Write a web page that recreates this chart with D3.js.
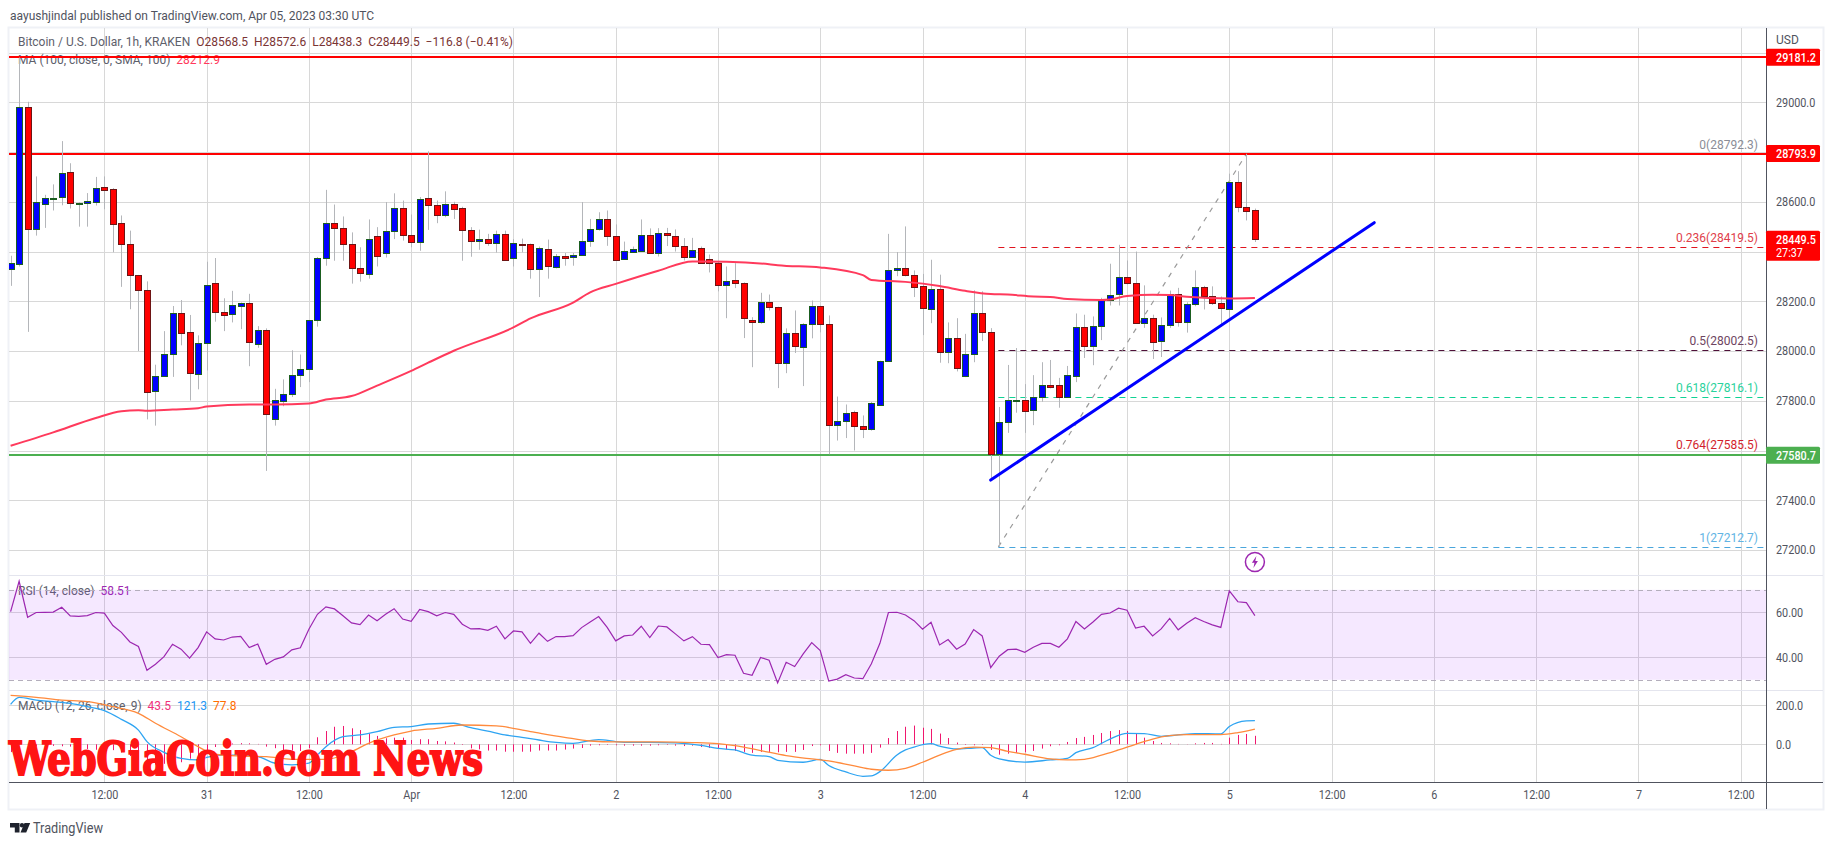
<!DOCTYPE html>
<html>
<head>
<meta charset="utf-8">
<title>BTCUSD 1h</title>
<script src="https://cdn.jsdelivr.net/npm/d3@7"></script>
<style>
  body { margin: 0; background: #fff; }
  svg { display: block; }
  text { font-family: Roboto, sans-serif; }
</style>
</head>
<body>
<svg id="chart" width="1834" height="845"></svg>
<script>
// candles, one per hour starting Mar 29 01:00 UTC
const opens = [28328,28349,28980,28491,28590,28615,28619,28721,28590,28595,
  28599,28658,28652,28515,28430,28306,28244,27840,27901,27990,
  28152,28075,27908,28033,28273,28155,28150,28183,28192,28029,
  28083,27726,27799,27828,27904,27929,28123,28376,28515,28495,
  28430,28333,28308,28462,28394,28483,28576,28467,28437,28616,
  28588,28547,28592,28576,28487,28441,28450,28433,28471,28376,
  28430,28430,28329,28410,28336,28382,28378,28386,28442,28491,
  28531,28463,28370,28398,28404,28467,28394,28475,28463,28422,
  28378,28415,28371,28355,28265,28286,28274,28126,28116,28198,
  28178,27951,28073,28016,28108,28182,28110,27702,27720,27756,
  27700,27688,27783,27961,28327,28335,28307,28260,28169,28250,
  27997,28053,27899,27989,28154,28077,27586,27713,27801,27802,
  27764,27816,27862,27862,27816,27899,28096,28020,28100,28206,
  28229,28296,28274,28114,28134,28041,28105,28230,28118,28190,
  28258,28222,28194,28170,28679,28580,28568.5];
const closes = [28353,28980,28491,28600,28616,28617,28717,28595,28597,28604,
  28656,28647,28511,28429,28304,28247,27835,27901,27990,28152,
  28073,27912,28033,28265,28158,28146,28184,28192,28037,28083,
  27746,27804,27828,27905,27929,28123,28374,28515,28494,28429,
  28332,28312,28450,28384,28483,28576,28467,28437,28612,28588,
  28547,28592,28572,28485,28441,28450,28433,28471,28364,28434,
  28425,28329,28414,28340,28382,28376,28386,28442,28491,28531,
  28461,28364,28403,28411,28467,28394,28475,28466,28422,28378,
  28407,28355,28355,28265,28282,28273,28132,28116,28198,28177,
  27951,28073,28020,28110,28182,28108,27704,27720,27752,27698,
  27688,27792,27961,28327,28335,28307,28257,28173,28250,27997,
  28053,27931,27989,28154,28076,27586,27713,27802,27803,27760,
  27816,27862,27856,27816,27902,28096,28020,28100,28206,28226,
  28296,28273,28114,28134,28037,28105,28230,28118,28190,28258,
  28222,28194,28174,28679,28580,28564,28449.5];
const highs = [28383,29180,29002,28702,28628,28670,28844,28755,28598,28635,
  28700,28702,28655,28545,28484,28306,28280,27945,28080,28181,
  28205,28145,28063,28359,28374,28212,28242,28195,28230,28100,
  28091,27848,27886,28003,27986,28123,28378,28648,28589,28541,
  28477,28417,28529,28498,28599,28634,28605,28549,28619,28803,
  28605,28642,28600,28580,28498,28488,28471,28484,28484,28450,
  28452,28432,28420,28448,28390,28394,28394,28599,28531,28558,
  28565,28509,28440,28420,28529,28493,28494,28495,28489,28454,
  28455,28420,28388,28360,28340,28353,28276,28136,28234,28227,
  28178,28091,28163,28112,28203,28182,28143,27817,27785,27760,
  27741,27795,27961,28471,28398,28501,28324,28310,28367,28307,
  28115,28132,28069,28244,28240,28092,27775,27944,28012,27867,
  27903,27955,27964,27892,27940,28151,28146,28139,28214,28351,
  28427,28364,28400,28264,28146,28135,28243,28254,28196,28324,
  28262,28260,28219,28713,28723,28793,28572.6];
const lows = [28262,28340,28077,28464,28495,28565,28586,28573,28500,28500,
  28585,28570,28397,28258,28168,28000,27725,27700,27896,27896,
  28023,27801,27846,27922,28118,28080,28115,28088,27939,28013,
  27518,27700,27778,27815,27855,27875,28098,28343,28363,28363,
  28271,28279,28291,28340,28376,28450,28444,28417,28403,28487,
  28514,28538,28531,28363,28379,28407,28423,28396,28363,28340,
  28397,28291,28217,28291,28332,28343,28343,28383,28419,28484,
  28423,28363,28367,28395,28400,28390,28380,28422,28400,28364,
  28375,28350,28316,28240,28132,28253,28052,27935,28110,28163,
  27851,27911,27992,27859,28051,28075,27585,27640,27650,27600,
  27650,27680,27780,27958,28301,28300,28217,28064,28112,27953,
  27951,27918,27895,27955,28040,27485,27212.7,27671,27752,27671,
  27702,27796,27850,27772,27812,27875,27972,27943,28044,28183,
  28183,28268,28110,28093,27968,27976,28093,28098,28074,28180,
  28167,28185,28097,28132,28558,28525,28438.3];

// moving average, read at these candle indexes
const maIndex = [0,5,10,13,15,16,19,22,23,28,31,35,37,40,43,47,49,52,59,61,66,68,71,76,80,84,89,90,95,100,101,105,109,112,115,117,120,122,124,128,129,131,134,136,138,143,146];
const maValues = [27619,27673,27731,27758,27762,27760,27765,27770,27777,27785,27785,27789,27805,27819,27861,27920,27953,28001,28095,28131,28195,28236,28270,28323,28360,28359,28349,28345,28336,28305,28286,28278,28261,28242,28229,28227,28219,28217,28209,28205,28207,28221,28226,28225,28218,28211,28212.9];

const rsiValues = [60.3,73.8,57.8,59.9,60.0,60.1,62.2,58.4,58.2,58.5,
  59.9,59.6,54.1,51.1,46.8,44.8,34.2,36.9,40.3,45.8,
  43.6,39.6,44.3,51.3,48.2,47.7,49.0,49.3,44.3,45.9,
  36.9,39.1,40.2,43.3,44.2,52.5,59.1,62.4,61.5,58.5,
  55.3,54.5,58.8,56.2,59.1,61.6,57.0,56.0,61.3,60.3,
  58.4,59.9,59.1,54.7,52.6,52.7,52.0,53.8,48.2,51.7,
  51.3,46.2,50.7,47.1,49.2,49.2,49.6,53.2,55.7,58.1,
  53.3,47.3,49.5,49.9,53.8,48.8,53.9,53.5,50.4,47.3,
  49.2,45.8,45.6,39.9,41.2,40.9,32.9,32.0,39.9,38.7,
  28.6,37.8,35.9,41.5,46.5,43.0,29.4,30.3,32.3,30.8,
  30.5,37.1,46.2,59.9,60.0,58.8,56.3,52.5,55.6,45.5,
  47.9,43.6,45.9,52.3,49.5,35.4,40.5,43.4,43.6,42.2,
  44.5,46.2,46.2,44.5,48.2,55.9,52.6,55.7,59.1,59.7,
  61.8,60.9,53.0,53.8,49.5,52.6,57.3,52.2,55.1,57.6,
  55.9,54.4,53.3,69.5,64.7,64.3,58.51];

const macdIndex = [0,1,3,5,7,9,11,13,15,16,18,20,22,23,25,27,29,31,33,35,36,37,39,41,43,45,47,49,52,54,56,58,60,62,64,66,69,71,72,75,78,81,83,85,87,89,90,93,95,96,98,100,101,102,104,105,106,108,109,111,113,114,115,116,119,122,124,125,127,129,131,133,135,137,139,142,143,145,146];
const macdValues = [205,241,227,219,210,193,173,128,73,14,-41,-72,-80,-67,-55,-55,-63,-97,-106,-97,-55,-12,39,48,65,87,91,104,108,85,67,48,36,22,10,5,24,14,10,10,7,-5,-21,-29,-56,-63,-82,-92,-77,-109,-142,-164,-162,-140,-55,-29,-14,3,-9,-24,-19,-17,-56,-75,-91,-80,-72,-43,-17,27,56,55,41,48,55,53,91,120,121.3];
const signalIndex = [0,3,6,9,12,15,17,20,22,24,27,30,33,37,40,42,45,47,50,53,57,61,65,68,71,72,76,80,83,85,88,91,94,96,99,101,103,105,107,109,111,113,115,117,119,122,124,126,128,130,132,134,136,138,142,144,146];
const signalValues = [251,241,227,219,193,159,108,39,-12,-51,-60,-63,-77,-77,-38,5,48,68,82,99,94,65,36,17,12,12,12,9,3,-7,-32,-58,-75,-85,-111,-128,-133,-123,-92,-55,-26,-14,-17,-36,-51,-75,-80,-77,-56,-29,0,27,44,50,50,60,77.8];
const histValues = [-40,2,-2,-12,-10,-8,-10,-12,-14,-24,
  -28,-26,-30,-42,-60,-80,-96,-104,-100,-100,
  -92,-74,-60,-40,-14,-5,4,6,5,2,
  -12,-20,-30,-32,-34,-20,36,68,90,94,
  82,73,56,43,31,34,34,22,26,26,
  17,15,9,-3,-21,-26,-32,-32,-38,-38,
  -38,-38,-32,-32,-32,-27,-22,-19,-7,-5,
  -3,-5,-7,-7,-7,-7,-5,-3,-7,-9,
  -7,-14,-19,-20,-26,-34,-39,-44,-39,-39,
  -41,-39,-39,-29,-9,-5,-34,-44,-48,-48,
  -48,-44,-17,32,68,90,96,85,79,55,
  32,9,-3,-5,-3,-29,-53,-48,-44,-41,
  -34,-22,-10,-5,12,32,38,48,58,68,
  73,68,56,34,17,7,5,2,1,5,
  7,7,2,34,48,53,43.5];

const priceGrid = [29200,29000,28800,28600,28400,28200,28000,27800,27600,27400,27200];
// the others sit under the price tags
const priceTicks = [29000,28600,28200,28000,27800,27400,27200];
const rsiTicks = [60,40];
const macdTicks = [200,0];
const timeTicks = [11,23,35,47,59,71,83,95,107,119,131,143,155,167,179,191,203];
const timeLabels = ["12:00","31","12:00","Apr","12:00","2","12:00","3","12:00","4","12:00","5","12:00","6","12:00","7","12:00"];

const fibLevels = ["0","0.236","0.5","0.618","0.764","1"];
const fibPrices = [28792.3,28419.5,28002.5,27816.1,27585.5,27212.7];
const fibColors = ["#8a8d96","#e0141e","#4e1038","#10d294","#e5141e","#4aa6dc"];
const fibTextColors = ["#8a8d96","#e0404a","#6e4560","#2ad29c","#d21e2c","#62b4e4"];

const resistance = [29181.2,28793.9];
const support = [27580.7];
const trendIndex = [115,160];
const trendPrice = [27481,28516];

const svg = d3.select("#chart");

const left = 9, right = 1766, frameRight = 1823;
const mainBottom = 575, rsiBottom = 690, macdBottom = 782, frameBottom = 809;

const x = d3.scaleLinear().domain([0,146]).range([10.6,1254.9]);
const y = d3.scaleLinear().domain([27200,29000]).range([550,102.3]);
const yRsi = d3.scaleLinear().domain([30,70]).range([679.8,589.8]);
const yMacd = d3.scaleLinear().domain([0,200]).range([744.3,705.3]);
const crisp = v => Math.round(v)+0.5;

svg.append("defs").append("clipPath").attr("id","plot")
  .append("rect").attr("x",left).attr("y",27).attr("width",right-left).attr("height",macdBottom-27);

// frame
svg.append("rect").attr("x",8.5).attr("y",27.5).attr("width",frameRight-8).attr("height",frameBottom-27)
  .attr("fill","#fff").attr("stroke","#eff1f6").attr("stroke-width",2);

// grid
const gridColor = "#d8d8d8";
const gridG = svg.append("g");
gridG.selectAll(".vgrid").data(timeTicks).enter().append("line")
  .attr("x1",d => crisp(x(d))).attr("x2",d => crisp(x(d))).attr("y1",28).attr("y2",macdBottom)
  .attr("stroke",gridColor);
const hgrid = (ticks, scale) => gridG.selectAll(null).data(ticks).enter().append("line")
  .attr("x1",left).attr("x2",right).attr("y1",d => crisp(scale(d))).attr("y2",d => crisp(scale(d)))
  .attr("stroke",gridColor);
hgrid(priceGrid,y);
hgrid(rsiTicks,yRsi);
hgrid(macdTicks,yMacd);

// pane separators
[mainBottom,rsiBottom].forEach(v => {
  svg.append("line").attr("x1",left).attr("x2",frameRight).attr("y1",v+0.5).attr("y2",v+0.5).attr("stroke","#e4e5ee");
});

// legends, they sit under the drawn lines
const legend = (py, parts) => {
  const t = svg.append("text").attr("x",18).attr("y",py).attr("font-size",12);
  parts.forEach(p => t.append("tspan").attr("fill",p[1]).attr("xml:space","preserve").text(p[0]));
};
const ohlc = "#7a3434";
legend(46,[["Bitcoin / U.S. Dollar, 1h, KRAKEN  ","#5d606b"],["O28568.5  H28572.6  L28438.3  C28449.5  −116.8 (−0.41%)",ohlc]]);
legend(64,[["MA (100, close, 0, SMA, 100)  ","#5d606b"],["28212.9","#ff3a5c"]]);
legend(595,[["RSI (14, close)  ","#5d606b"],["58.51","#9c27b0"]]);
legend(710,[["MACD (12, 26, close, 9)  ","#5d606b"],["43.5","#f0307a"],["  ",""],["121.3","#2196f3"],["  ",""],["77.8","#ff6d00"]]);

// rsi band
svg.append("rect").attr("x",left).attr("y",yRsi(70)).attr("width",right-left).attr("height",yRsi(30)-yRsi(70))
  .attr("fill","#a030ff").attr("opacity",0.11);
[70,30].forEach(v => {
  svg.append("line").attr("x1",left).attr("x2",right).attr("y1",crisp(yRsi(v))).attr("y2",crisp(yRsi(v)))
    .attr("stroke","#b4aebc").attr("stroke-dasharray","5 4");
});

const plot = svg.append("g").attr("clip-path","url(#plot)");

// fib levels
const fibStart = 115.9;
plot.selectAll(".fib").data(fibPrices).enter().append("line")
  .attr("x1",x(fibStart)).attr("x2",right)
  .attr("y1",d => crisp(y(d))).attr("y2",d => crisp(y(d)))
  .attr("stroke",(d,i) => fibColors[i]).attr("stroke-width",1.2).attr("stroke-dasharray","6 5");
plot.append("line")
  .attr("x1",x(fibStart)).attr("y1",y(fibPrices[5]))
  .attr("x2",x(145)).attr("y2",y(fibPrices[0]))
  .attr("stroke","#999").attr("stroke-width",1.2).attr("stroke-dasharray","5 6");
svg.selectAll(".fiblabel").data(fibPrices).enter().append("text")
  .attr("x",1758).attr("y",d => y(d)-5).attr("text-anchor","end").attr("font-size",12)
  .attr("fill",(d,i) => fibTextColors[i])
  .text((d,i) => `${fibLevels[i]}(${d.toFixed(1)})`);

// horizontal levels
plot.selectAll(".res").data(resistance).enter().append("line")
  .attr("x1",left).attr("x2",right).attr("y1",d => Math.round(y(d))).attr("y2",d => Math.round(y(d)))
  .attr("stroke","#ff0000").attr("stroke-width",2);
plot.selectAll(".sup").data(support).enter().append("line")
  .attr("x1",left).attr("x2",right).attr("y1",d => Math.round(y(d))).attr("y2",d => Math.round(y(d)))
  .attr("stroke","#4caf50").attr("stroke-width",2);

// candles
const idx = d3.range(opens.length);
plot.selectAll(".wick").data(idx).enter().append("line")
  .attr("x1",d => crisp(x(d))).attr("x2",d => crisp(x(d)))
  .attr("y1",d => y(highs[d])).attr("y2",d => y(lows[d]))
  .attr("stroke","#b4b6ba");
plot.selectAll(".body").data(idx).enter().append("rect")
  .attr("x",d => Math.round(x(d))-2.5)
  .attr("width",6)
  .attr("y",d => crisp(y(Math.max(opens[d],closes[d]))))
  .attr("height",d => Math.max(1,Math.round(y(Math.min(opens[d],closes[d])))-Math.round(y(Math.max(opens[d],closes[d])))))
  .attr("fill",d => closes[d] >= opens[d] ? "#0000ff" : "#ff0000")
  .attr("stroke",d => closes[d] >= opens[d] ? "#1b5e20" : "#6e1414");

// moving average
const line = (xs, vs, scale, curve) => d3.line().curve(curve || d3.curveLinear)
  .x(d => x(xs[d])).y(d => scale(vs[d]))(d3.range(xs.length));
plot.append("path").attr("d",line(maIndex,maValues,y,d3.curveMonotoneX))
  .attr("fill","none").attr("stroke","#ff3a5c").attr("stroke-width",2);

// trend line
plot.append("path").attr("d",line(trendIndex,trendPrice,y))
  .attr("fill","none").attr("stroke","#0000ff").attr("stroke-width",3).attr("stroke-linecap","round");

// rsi
plot.append("path").attr("d",line(idx,rsiValues,yRsi))
  .attr("fill","none").attr("stroke","#9c27b0").attr("stroke-width",1.2);

// macd
plot.selectAll(".hist").data(idx).enter().append("line")
  .attr("x1",d => crisp(x(d))).attr("x2",d => crisp(x(d)))
  .attr("y1",yMacd(0)).attr("y2",d => yMacd(histValues[d]))
  .attr("stroke","#f0176e");
plot.append("path").attr("d",line(macdIndex,macdValues,yMacd,d3.curveMonotoneX))
  .attr("fill","none").attr("stroke","#2ea4f2").attr("stroke-width",1.3);
plot.append("path").attr("d",line(signalIndex,signalValues,yMacd,d3.curveMonotoneX))
  .attr("fill","none").attr("stroke","#ff8a3c").attr("stroke-width",1.3);

// lightning marker on the last candle
const bolt = svg.append("g").attr("transform",`translate(${x(146)},562)`);
bolt.append("circle").attr("r",9.5).attr("fill","#fff").attr("stroke","#9c27b0").attr("stroke-width",1.5);
bolt.append("path").attr("d","M1.5,-6 L-3,0.8 L-0.4,0.8 L-1.5,6 L3,-1 L0.4,-1 Z").attr("fill","#9c27b0");

// axes, the reference's numerals run narrow so they get squeezed a bit
const axisText = "#50535e";
const squeeze = (sel, k) => sel.each(function() {
  this.setAttribute("textLength", this.getComputedTextLength()*k);
  this.setAttribute("lengthAdjust", "spacingAndGlyphs");
});
const styleAxis = g => {
  g.select(".domain").remove();
  g.selectAll(".tick line").remove();
  g.selectAll("text").attr("fill",axisText).attr("font-size",12).attr("font-family","Roboto, sans-serif").call(squeeze,0.9);
};
svg.append("g").attr("transform",`translate(${right+4},0)`)
  .call(d3.axisRight(y).tickValues(priceTicks).tickFormat(d3.format(".1f")).tickSize(0).tickPadding(6))
  .call(styleAxis);
svg.append("g").attr("transform",`translate(${right+4},0)`)
  .call(d3.axisRight(yRsi).tickValues(rsiTicks).tickFormat(d3.format(".2f")).tickSize(0).tickPadding(6))
  .call(styleAxis);
svg.append("g").attr("transform",`translate(${right+4},0)`)
  .call(d3.axisRight(yMacd).tickValues(macdTicks).tickFormat(d3.format(".1f")).tickSize(0).tickPadding(6))
  .call(styleAxis);
svg.append("g").attr("transform",`translate(0,${macdBottom})`)
  .call(d3.axisBottom(x).tickValues(timeTicks).tickFormat((d,i) => timeLabels[i]).tickSize(0).tickPadding(8))
  .call(styleAxis);

svg.append("text").attr("x",1776).attr("y",44).attr("fill",axisText).attr("font-size",12).text("USD");

svg.append("line").attr("x1",right+0.5).attr("x2",right+0.5).attr("y1",28).attr("y2",frameBottom).attr("stroke","#50535e");
svg.append("line").attr("x1",left).attr("x2",frameRight).attr("y1",macdBottom+0.5).attr("y2",macdBottom+0.5).attr("stroke","#50535e");

// price tags
const tag = (price, color, h, label, sub) => {
  const top = y(price)-8.5;
  svg.append("rect").attr("x",right).attr("y",top).attr("width",54).attr("height",h).attr("rx",1.5).attr("fill",color);
  svg.append("text").attr("x",1776).attr("y",top+13).attr("fill","#fff").attr("font-size",12).attr("font-weight",500).text(label).call(squeeze,0.9);
  if (sub) svg.append("text").attr("x",1776).attr("y",top+26).attr("fill","#fff").attr("font-size",12).text(sub).call(squeeze,0.9);
};
tag(29181.2,"#ff0000",17,"29181.2");
tag(28793.9,"#ff0000",17,"28793.9");
tag(28449.5,"#ff0000",30,"28449.5","27:37");
tag(27580.7,"#4caf50",17,"27580.7");

// publisher line and logo
svg.append("text").attr("x",10).attr("y",19.5).attr("fill","#50535e").attr("font-size",12)
  .text("aayushjindal published on TradingView.com, Apr 05, 2023 03:30 UTC");
svg.append("path").attr("fill","#1e222d")
  .attr("d","M10,823 h9.5 v9.5 h-4.7 v-5 h-4.8 Z M24.5,823 h5.7 l-4,9.5 h-5.7 Z");
svg.append("circle").attr("cx",22).attr("cy",825.2).attr("r",2.2).attr("fill","#1e222d");
svg.append("text").attr("x",33).attr("y",833).attr("fill","#50535e").attr("font-size",14)
  .attr("textLength",70).attr("lengthAdjust","spacingAndGlyphs").text("TradingView");

// site watermark
svg.append("text").attr("x",9).attr("y",775).attr("textLength",474).attr("lengthAdjust","spacingAndGlyphs")
  .attr("font-weight",700).attr("font-size",46)
  .attr("stroke","#ff1414").attr("stroke-width",1.8)
  .attr("fill","#ff1414").style("font-family","'DejaVu Serif Condensed','DejaVu Serif'").text("WebGiaCoin.com News");
</script>
</body>
</html>
